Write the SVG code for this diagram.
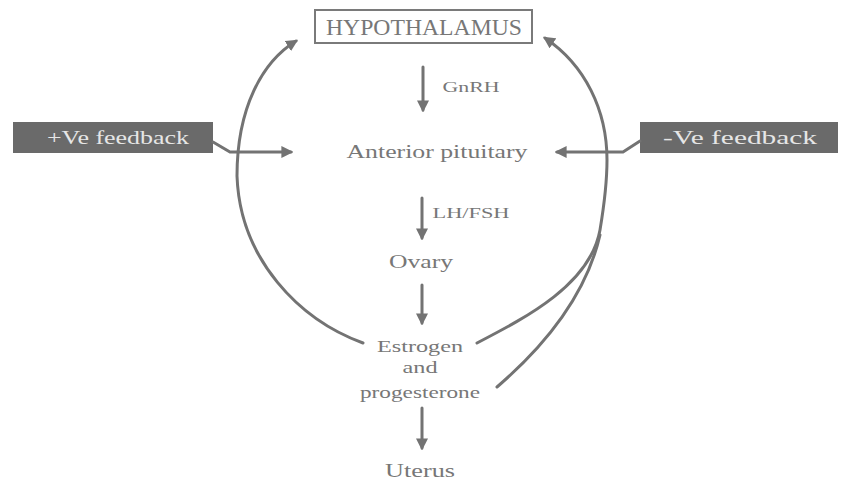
<svg xmlns="http://www.w3.org/2000/svg" width="841" height="483" viewBox="0 0 841 483">
<style>
.t{font-family:"Liberation Serif","Times New Roman",serif;fill:#777;text-anchor:middle}
.ln{fill:none;stroke:#737373;stroke-width:3;stroke-linecap:round}
.fbbox{fill:#6a6a6a}
.fbt{font-family:"Liberation Serif","Times New Roman",serif;fill:#e6e6e6;font-size:19px;text-anchor:middle}
</style>
<defs>
<marker id="ah" viewBox="0 0 10 10" refX="8" refY="5" markerWidth="4" markerHeight="4" markerUnits="strokeWidth" orient="auto">
<path d="M0,0 L10,5 L0,10 z" fill="#737373"/>
</marker>
</defs>
<rect width="841" height="483" fill="#fff"/>
<g id="hypothalamus">
<rect x="315" y="10" width="217" height="33" fill="#fff" stroke="#7a7a7a" stroke-width="2"/>
<text class="t" x="424" y="35" font-size="23" textLength="196" lengthAdjust="spacingAndGlyphs">HYPOTHALAMUS</text>
</g>
<g id="anterior-pituitary">
<text class="t" x="437" y="158" font-size="18" textLength="181" lengthAdjust="spacingAndGlyphs">Anterior pituitary</text>
</g>
<g id="ovary">
<text class="t" x="421" y="268" font-size="18" textLength="64" lengthAdjust="spacingAndGlyphs">Ovary</text>
</g>
<g id="estrogen-progesterone">
<text class="t" x="420" y="352" font-size="17" textLength="86" lengthAdjust="spacingAndGlyphs">Estrogen</text>
<text class="t" x="420" y="373" font-size="17" textLength="35" lengthAdjust="spacingAndGlyphs">and</text>
<text class="t" x="420" y="398" font-size="17" textLength="120" lengthAdjust="spacingAndGlyphs">progesterone</text>
</g>
<g id="uterus">
<text class="t" x="420" y="477" font-size="18" textLength="70" lengthAdjust="spacingAndGlyphs">Uterus</text>
</g>
<g id="pos-feedback">
<rect class="fbbox" x="13" y="122" width="200" height="31"/>
<text class="fbt" x="118" y="144" textLength="142" lengthAdjust="spacingAndGlyphs">+Ve feedback</text>
</g>
<g id="neg-feedback">
<rect class="fbbox" x="640" y="122" width="198" height="31"/>
<text class="fbt" x="740" y="144" textLength="154" lengthAdjust="spacingAndGlyphs">-Ve feedback</text>
</g>
<g id="connectors">
<line class="ln" x1="423" y1="67" x2="423" y2="110" marker-end="url(#ah)"/>
<text class="t" x="471" y="92" font-size="15" textLength="57" lengthAdjust="spacingAndGlyphs">GnRH</text>
<line class="ln" x1="422" y1="198" x2="422" y2="238" marker-end="url(#ah)"/>
<text class="t" x="471" y="218" font-size="15" textLength="77" lengthAdjust="spacingAndGlyphs">LH/FSH</text>
<line class="ln" x1="422" y1="285" x2="422" y2="323" marker-end="url(#ah)"/>
<line class="ln" x1="422" y1="408" x2="422" y2="448" marker-end="url(#ah)"/>
<path class="ln" d="M363,343 C300,320 240,260 237,176 C237,108 262,62 296,41" marker-end="url(#ah)"/>
<path class="ln" d="M477,343 C525,318 590,285 600,230 C605,200 607,180 607,160 C607,110 585,65 545,38" marker-end="url(#ah)"/>
<path class="ln" d="M497,387 C540,350 585,300 600,235"/>
<path class="ln" d="M213,142 L230,152 L291,152" marker-end="url(#ah)"/>
<path class="ln" d="M640,141 L623,152 L557,152" marker-end="url(#ah)"/>
</g>
</svg>
